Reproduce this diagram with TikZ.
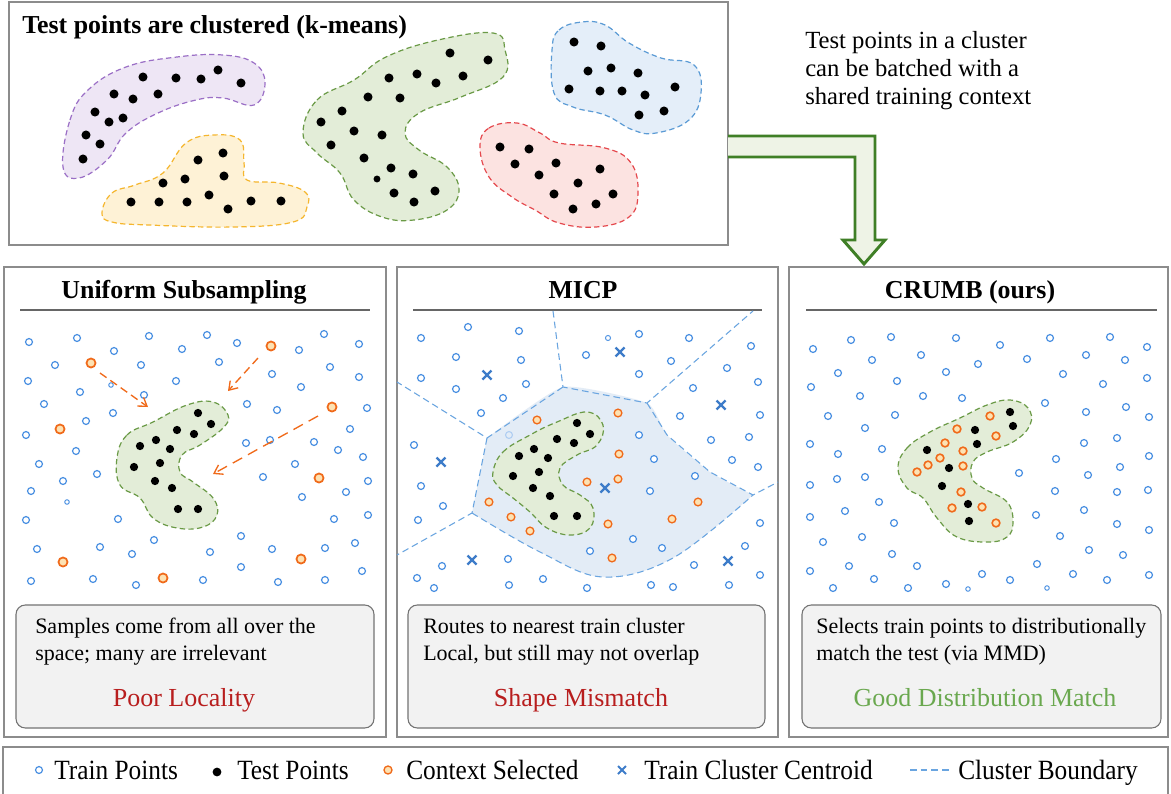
\documentclass[tikz,border=0pt]{standalone}
\usepackage{fontspec}
\setmainfont{Liberation Serif}
\usetikzlibrary{arrows.meta}
\definecolor{trainblue}{HTML}{4A90E2}
\definecolor{cenblue}{HTML}{3D7CC9}
\definecolor{bndblue}{HTML}{6AA5E0}
\definecolor{regblue}{HTML}{E3ECF6}
\definecolor{selor}{HTML}{F06A1A}
\definecolor{selfill}{HTML}{FDE2B3}
\definecolor{gfill}{HTML}{E3EDD8}
\definecolor{gline}{HTML}{6A9A46}
\definecolor{pfill}{HTML}{EEE6F5}
\definecolor{pline}{HTML}{9B6FC6}
\definecolor{yfill}{HTML}{FEF2D6}
\definecolor{yline}{HTML}{F5B62E}
\definecolor{bfill}{HTML}{E4EEF9}
\definecolor{bline}{HTML}{5B9BD5}
\definecolor{rfill}{HTML}{FCE3E1}
\definecolor{rline}{HTML}{E5484D}
\definecolor{arrowg}{HTML}{3F7F26}
\definecolor{arrowfill}{HTML}{EEF3E6}
\definecolor{boxgray}{HTML}{8C8C8C}
\definecolor{txtbox}{HTML}{F2F2F2}
\definecolor{badred}{HTML}{B81E1E}
\definecolor{goodgreen}{HTML}{6AA84F}
\newcommand{\tallish}[1]{\scalebox{1}[1.1]{#1}}
\begin{document}
\begin{tikzpicture}[x=0.75pt,y=-0.75pt,
  blob/.style={line width=0.9pt, dash pattern=on 4pt off 2.5pt},
  train/.style={draw=trainblue, line width=0.9pt, fill=white},
  sel/.style={draw=selor, line width=1pt, fill=selfill},
  cen/.style={draw=cenblue, line width=1.8pt},
  panel/.style={draw=boxgray, line width=0.8pt},
  tbox/.style={draw=gray!90!black, line width=0.8pt, fill=txtbox, rounded corners=7pt},
  ttl/.style={font=\fontsize{19.4}{23}\selectfont\bfseries, inner sep=0pt, anchor=base},
  body/.style={font=\fontsize{16.5}{20.25}\selectfont, inner sep=0pt, anchor=base west, align=left},
  verdict/.style={font=\fontsize{19.5}{23}\selectfont, inner sep=0pt, anchor=base},
  leg/.style={font=\fontsize{19}{23}\selectfont, inner sep=0pt, anchor=base west},
  bnd/.style={draw=bndblue, line width=0.8pt, dash pattern=on 5pt off 3pt}
]
\useasboundingbox (0,0) rectangle (1171,793);
\fill[white] (0,0) rectangle (1171,793);

% ---------------- top panel
\draw[panel] (9,2) rectangle (728,245);
\node[ttl, anchor=base west] (toptitle) at (22,33) {Test points are clustered (k-means)};

% purple
\draw[blob, draw=pline, fill=pfill] plot[smooth cycle, tension=0.7] coordinates {(63,167) (70,120) (88,90) (126,67) (177,57) (223,55) (254,63) (265,83) (254,105) (223,98) (196,100) (158,113) (126,133) (107,160) (79,178)};
% yellow
\draw[blob, draw=yline, fill=yfill] plot[smooth cycle, tension=0.7] coordinates {(102,213) (112,193) (135,185) (163,173) (186,143) (214,135) (240,140) (244,163) (247,180) (279,183) (305,192) (307,207) (293,222) (233,227) (149,225) (112,222)};
% green
\draw[blob, draw=gline, fill=gfill] plot[smooth cycle, tension=0.7] coordinates {(303,133) (317,100) (354,80) (386,57) (438,40) (493,33) (505,50) (503,77) (461,97) (419,113) (405,133) (419,150) (447,167) (459,190) (447,210) (414,220) (382,217) (354,200) (340,173) (317,153)};
% blue
\draw[blob, draw=bline, fill=bfill] plot[smooth cycle, tension=0.7] coordinates {(552,50) (559,30) (582,22) (605,25) (629,43) (661,58) (694,65) (701,93) (689,120) (656,133) (633,130) (605,115) (573,107) (554,93)};
% red
\draw[blob, draw=rline, fill=rfill] plot[smooth cycle, tension=0.7] coordinates {(480,147) (489,128) (517,123) (540,133) (559,143) (605,148) (631,163) (638,193) (629,217) (596,227) (559,223) (535,210) (512,197) (489,177)};

\foreach \x/\y in {143/77,176/78,201/79,218/70,241/83,114/94,133/99,158/94,95/112,123/118,109/122,86/135,100/144,83/159,
  223/153,198/160,224/176,185/179,163/183,209/195,131/202,159/202,187/202,228/209,251/201,281/201,
  450/53,488/60,389/78,417/74,436/83,463/76,368/97,400/98,342/111,321/122,354/131,382/135,331/145,364/158,391/168,413/174,394/193,435/191,414/202,
  574/42,601/46,588/71,611/68,638/73,569/89,600/91,622/91,645/95,675/87,639/115,664/111,
  500/147,529/149,515/164,556/163,600/169,539/175,578/183,554/194,613/194,573/209,596/204}
  \fill (\x,\y) circle[radius=3.4pt];
\fill (377,179) circle[radius=2.6pt];

% right text
\node[font=\fontsize{18.5}{21}\selectfont, inner sep=0pt, anchor=base west] (note1) at (805,48) {Test points in a cluster};
\node[font=\fontsize{18.5}{21}\selectfont, inner sep=0pt, anchor=base west] (note2) at (805,76) {can be batched with a};
\node[font=\fontsize{18.5}{21}\selectfont, inner sep=0pt, anchor=base west] (note3) at (805,104) {shared training context};

% big arrow
\fill[arrowfill] (728,136) -- (875,136) -- (875,240) -- (885,240) -- (864,264) -- (843,240) -- (855,240) -- (855,157) -- (728,157) -- cycle;
\draw[arrowg, line width=2.2pt, line join=miter] (728,136) -- (875,136) -- (875,240) -- (885,240) -- (864,264) -- (843,240) -- (855,240) -- (855,157) -- (728,157);

% ---------------- panels
\draw[panel] (4,267) rectangle (386,737);
\draw[panel] (397,267) rectangle (778,737);
\draw[panel] (789,267) rectangle (1168,737);

% ===== Panel 1
\node[ttl] (t1) at (184,298) {Uniform Subsampling};
\draw[gray!80!black, line width=0.9pt] (20,310) -- (370,310);
\draw[blob, draw=gline, fill=gfill] plot[smooth cycle, tension=0.7] coordinates {(117,458) (127,435) (153,422) (187,405) (213,402) (228,415) (223,428) (200,445) (182,455) (180,472) (193,482) (213,498) (217,515) (203,527) (177,528) (153,518) (140,498) (120,485)};
\foreach \x/\y in {29/342,77/338,149/336,207/335,237/343,324/334,359/344,114/351,182/349,299/350,55/365,141/365,219/362,330/367,28/381,176/381,272/374,359/377,80/392,144/395,301/387,44/404,247/404,277/410,367/408,113/413,86/421,350/429,26/435,246/443,270/440,314/442,338/450,76/451,363/457,39/464,295/464,97/474,63/481,263/477,368/481,31/491,346/492,302/497,26/520,118/519,334/519,368/515,154/540,241/536,100/547,37/549,132/554,210/552,272/549,325/548,355/543,241/567,31/581,93/579,136/585,203/580,278/582,325/580,362/571}
  \draw[train] (\x,\y) circle[radius=2.6pt];
\foreach \x/\y in {111/385,67/502}
  \draw[train, line width=0.7pt] (\x,\y) circle[radius=1.7pt];
\foreach \x/\y in {198/413,211/424,177/430,194/434,156/440,170/449,140/446,134/467,160/463,155/481,172/488,178/509,198/509}
  \fill (\x,\y) circle[radius=3.1pt];
\foreach \x/\y in {91/363,271/346,60/429,332/407,319/478,63/562,163/578,301/559}
  \draw[sel, line width=1.3pt] (\x,\y) circle[radius=3.4pt];
\coordinate (a1) at (148,407);
\coordinate (a2) at (228,391);
\coordinate (a3) at (213,474);
\draw[selor, line width=1pt, dash pattern=on 6pt off 3.5pt, -{Straight Barb[length=6pt,width=8pt]}] (100,373) -- (a1);
\draw[selor, line width=1pt, dash pattern=on 6pt off 3.5pt, -{Straight Barb[length=6pt,width=8pt]}] (258,358) -- (a2);
\draw[selor, line width=1pt, dash pattern=on 8pt off 5pt, -{Straight Barb[length=6pt,width=8pt]}] (318,416) -- (a3);

\draw[tbox] (16,605) rectangle (374,728);
\node[body] (b1a) at (35,633) {Samples come from all over the};
\node[body] (b1b) at (35,660) {space; many are irrelevant};
\node[verdict, text=badred] (v1) at (184,706) {Poor Locality};

% ===== Panel 2
\node[ttl] (t2) at (583,298) {MICP};
\draw[gray!80!black, line width=0.9pt] (413,310) -- (762,310);
\fill[regblue] plot[smooth, tension=0.3] coordinates {(487,438) (563,387) (647,403) (667,435) (710,472) (753,495)} -- plot[smooth, tension=0.6] coordinates {(753,495) (673,558) (603,577) (540,552) (472,513)} -- cycle;
\draw[bnd] (553,311) -- (563,387) -- (647,403) -- (753,311);
\draw[bnd] (563,387) -- (487,438) -- (397,382);
\draw[bnd] (487,438) -- (472,513) -- (397,555);
\draw[bnd] (647,403) -- (667,435) -- (710,472) -- (753,495) -- (778,482);
\draw[bnd] plot[smooth, tension=0.6] coordinates {(472,513) (540,552) (603,577) (673,558) (753,495)};
\draw[blob, draw=gline, fill=gfill] plot[smooth cycle, tension=0.7] coordinates {(493,472) (503,452) (530,435) (557,422) (587,412) (603,425) (597,445) (577,455) (560,468) (563,485) (580,495) (593,508) (590,528) (570,535) (547,528) (530,512) (513,498) (497,485)};
\foreach \x/\y in {421/338,468/327,519/331,456/357,521/360,421/378,456/389,526/384,503/398,481/413,639/334,689/338,751/346,586/355,671/361,639/374,727/368,693/388,758/382,680/416,760/415,711/440,749/437,639/435,654/459,732/460,758/467,695/476,650/491,414/445,421/486,443/506,418/520,633/539,662/548,760/523,745/546,590/551,442/566,508/559,417/578,434/588,509/585,543/579,587/588,651/585,673/587,694/565,729/585,760/575}
  \draw[train] (\x,\y) circle[radius=2.6pt];
\draw[train, line width=0.7pt] (608,338) circle[radius=1.9pt];
\draw[draw=trainblue!45, line width=0.8pt] (509,435) circle[radius=2.6pt];
\foreach \x/\y in {577/423,590/434,557/439,574/443,534/449,548/458,519/456,513/476,539/472,533/488,550/496,554/516,577/516}
  \fill (\x,\y) circle[radius=3.1pt];
\foreach \x/\y in {537/420,618/413,619/454,618/479,587/482,489/502,511/517,530/531,608/524,672/519,698/502,612/558}
  \draw[sel] (\x,\y) circle[radius=2.9pt];
\foreach \x/\y in {487/375,620/352,721/405,441/462,605/488,472/560,728/561}
  \draw[cen] (\x-4.5,\y-4.5) -- (\x+4.5,\y+4.5) (\x-4.5,\y+4.5) -- (\x+4.5,\y-4.5);

\draw[tbox] (408,605) rectangle (765,728);
\node[body] (b2a) at (423,633) {Routes to nearest train cluster};
\node[body] (b2b) at (423,660) {Local, but still may not overlap};
\node[verdict, text=badred] (v2) at (581,706) {Shape Mismatch};

% ===== Panel 3
\node[ttl] (t3) at (970,298) {CRUMB (ours)};
\draw[gray!80!black, line width=0.9pt] (806,310) -- (1157,310);
\draw[blob, draw=gline, fill=gfill] plot[smooth cycle, tension=0.7] coordinates {(898,468) (907,448) (930,432) (960,418) (987,405) (1010,400) (1028,408) (1030,425) (1013,442) (987,452) (973,462) (972,478) (983,488) (1007,502) (1013,522) (1007,537) (987,542) (957,537) (937,518) (923,498) (907,488)};
\foreach \x/\y in {813/349,851/340,891/337,956/338,1000/345,1050/338,1110/337,1147/347,872/360,921/355,978/364,1027/359,1086/355,1125/360,838/373,946/372,1063/374,1147/378,811/387,897/381,1103/384,860/396,923/396,962/398,1045/403,828/416,895/415,1086/412,1126/407,1149/417,865/428,882/449,810/444,838/454,1084/443,1117/438,1056/459,1149/456,1120/467,1019/473,1088/475,810/485,837/479,865/477,1055/491,1117/492,1148/490,879/502,845/511,1084/510,1036/515,810/517,894/523,1117/524,1149/530,823/542,862/537,1060/536,892/554,1089/550,1123/555,810/571,849/566,917/566,1037/564,982/574,1073/574,1149/575,833/588,874/579,908/588,946/584,1010/580,1107/580}
  \draw[train] (\x,\y) circle[radius=2.6pt];
\foreach \x/\y in {968/589,1047/588}
  \draw[train, line width=0.7pt] (\x,\y) circle[radius=1.7pt];
\foreach \x/\y in {1010/412,1013/426,975/430,977/444,927/450,949/468,942/486,968/504,969/521}
  \fill (\x,\y) circle[radius=3.1pt];
\foreach \x/\y in {990/416,957/429,996/436,945/443,963/451,940/458,928/465,963/466,917/472,961/492,952/508,982/507,996/523}
  \draw[sel, line width=1.2pt] (\x,\y) circle[radius=2.9pt];

\draw[tbox] (802,605) rectangle (1161,728);
\node[body] (b3a) at (816,633) {Selects train points to distributionally};
\node[body] (b3b) at (816,660) {match the test (via MMD)};
\node[verdict, text=goodgreen] (v3) at (985,706) {Good Distribution Match};

% ---------------- legend
\draw[panel] (3,747) rectangle (1168,800);
\draw[train] (39,770) circle[radius=2.6pt];
\node[leg] (l1) at (54,779) {\tallish{Train Points}};
\fill (217,772) circle[radius=3.3pt];
\node[leg] (l2) at (237,779) {\tallish{Test Points}};
\draw[sel] (388,770) circle[radius=3pt];
\node[leg] (l3) at (406,779) {\tallish{Context Selected}};
\draw[cen, line width=1.5pt] (618,766) -- (626,774) (618,774) -- (626,766);
\node[leg] (l4) at (644,779) {\tallish{Train Cluster Centroid}};
\draw[bnd] (910,770) -- (949,770);
\node[leg] (l5) at (958,779) {\tallish{Cluster Boundary}};
\end{tikzpicture}
\end{document}
